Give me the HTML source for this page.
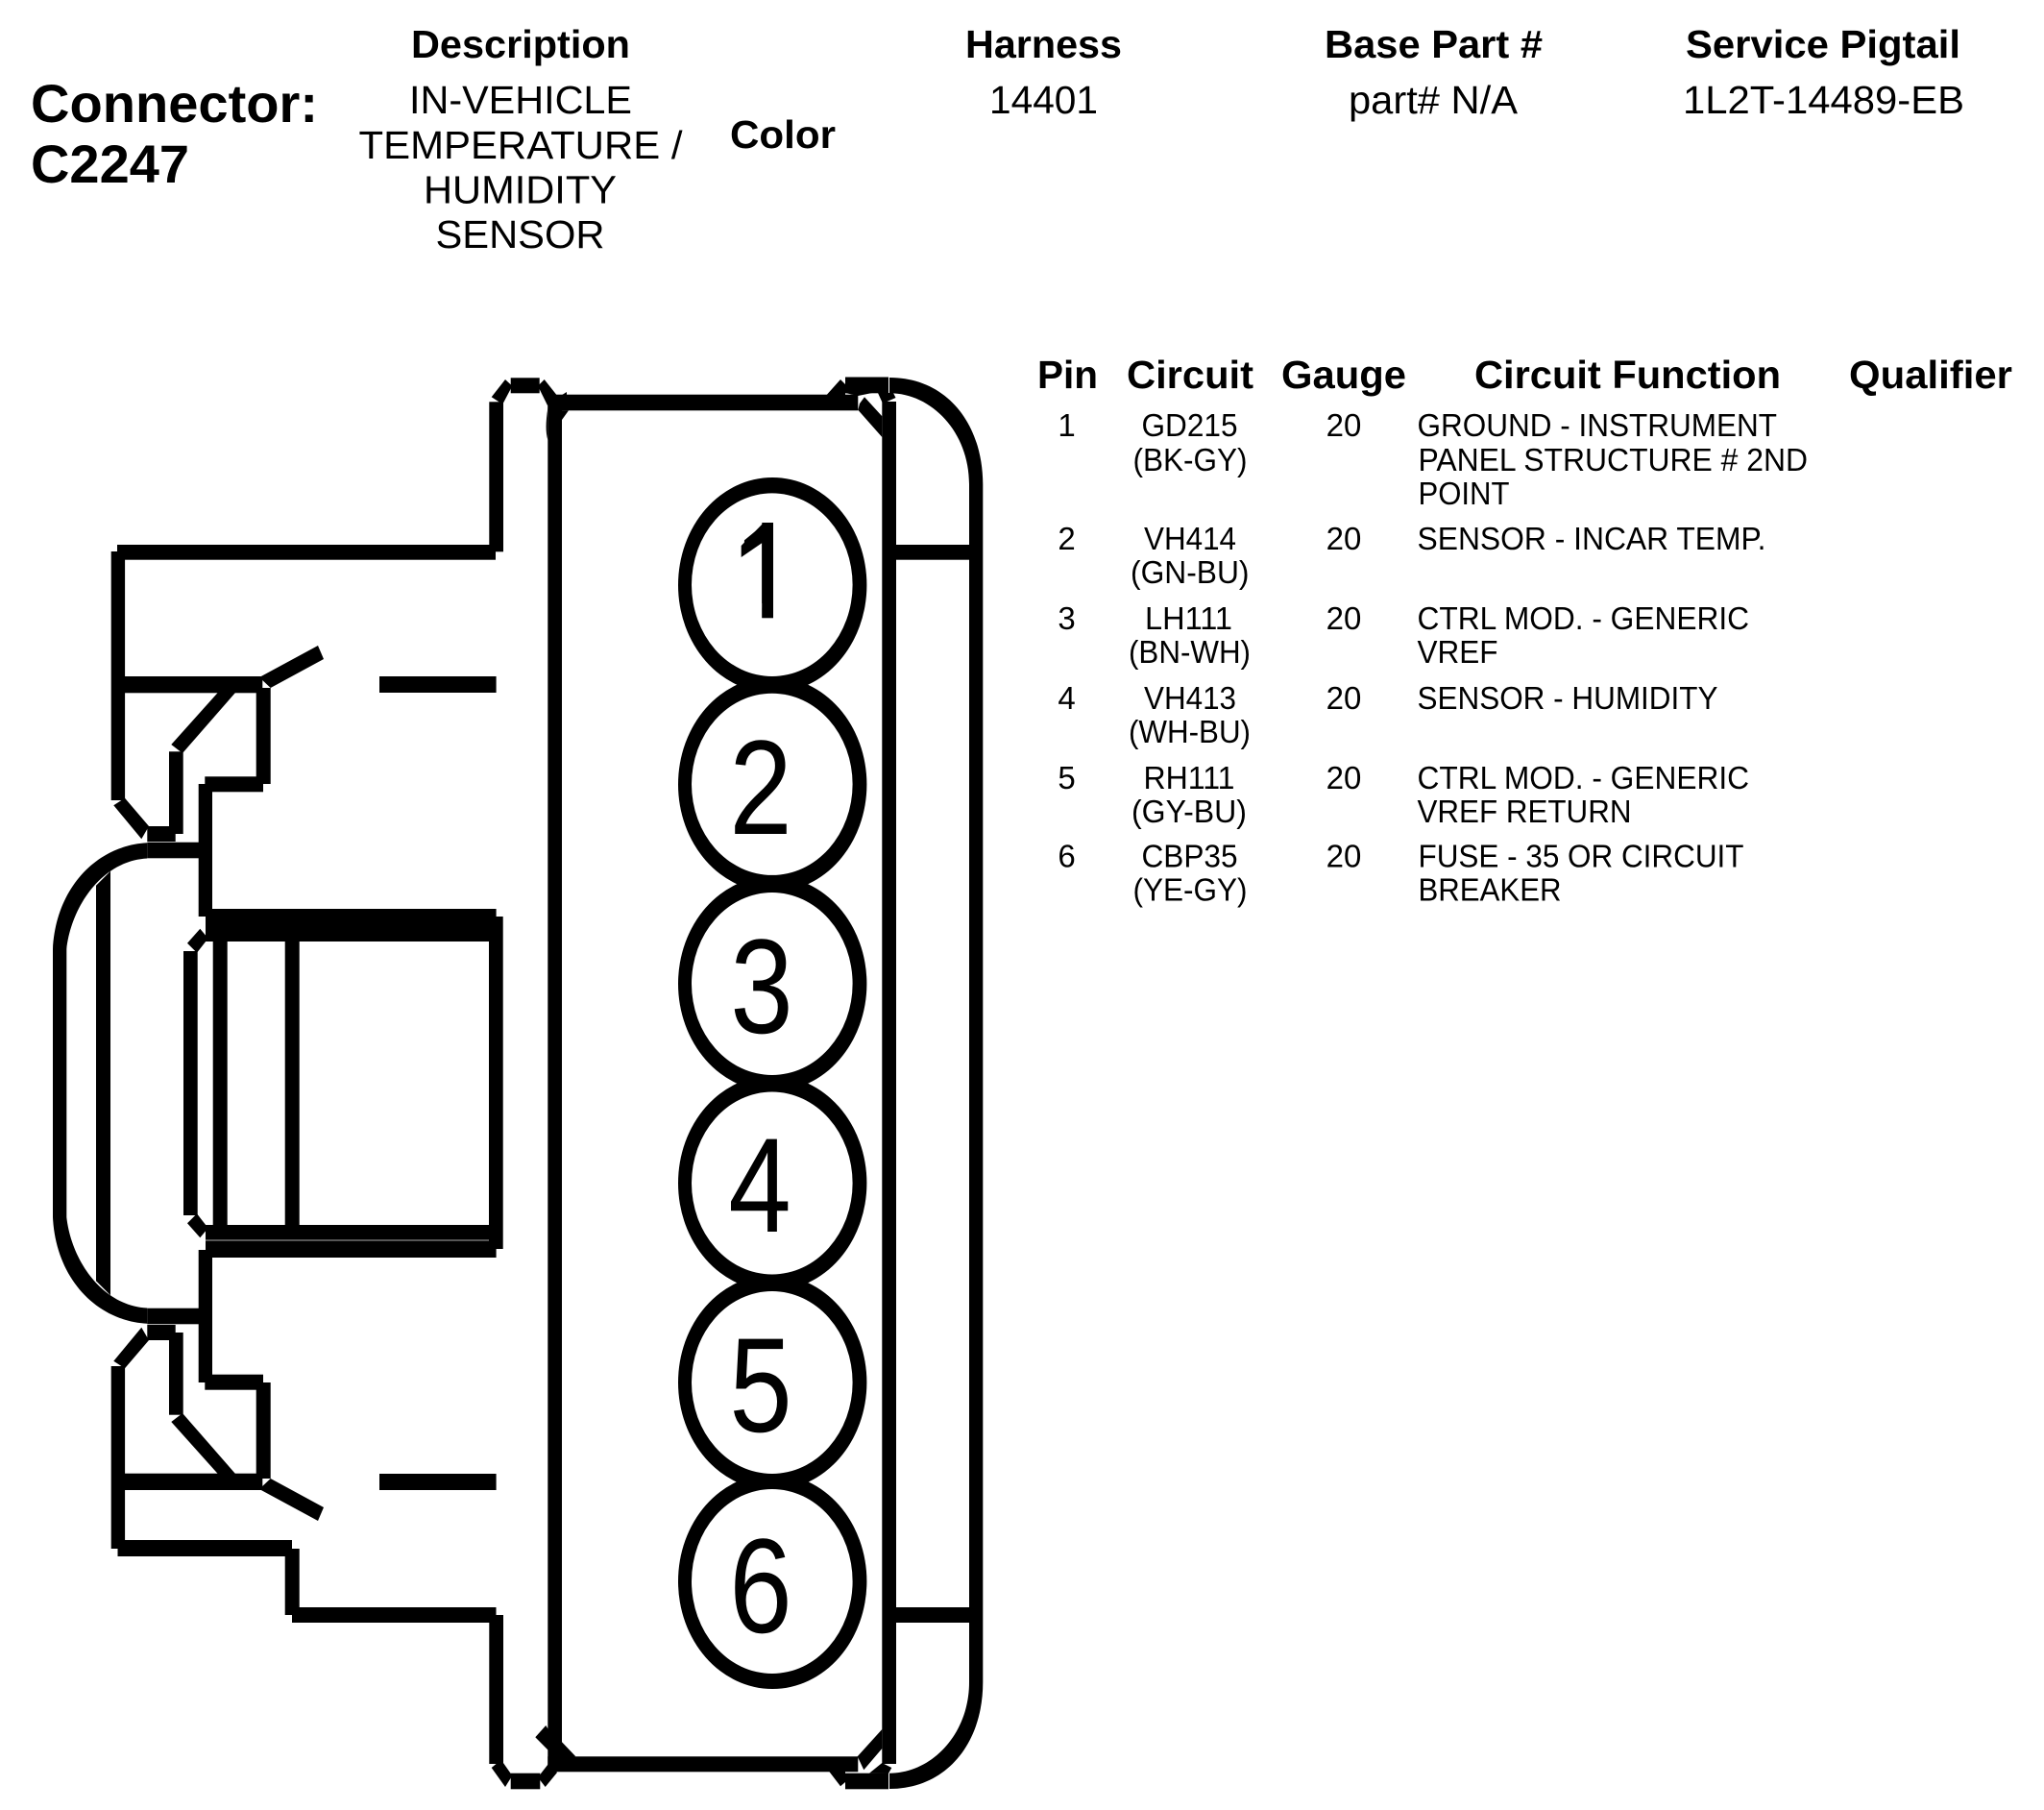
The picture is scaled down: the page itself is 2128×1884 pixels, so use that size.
<!DOCTYPE html>
<html><head><meta charset="utf-8"><style>
html,body{margin:0;padding:0;background:#fff}
svg{display:block}
text{font-family:"Liberation Sans",sans-serif;fill:#000}
.h{font-weight:bold;font-size:41px}
.r{font-size:41px}
.s{font-size:33px}
.d{font-size:140px}
</style></head><body>
<svg xmlns="http://www.w3.org/2000/svg" width="2128" height="1884" viewBox="0 0 2128 1884">
<rect width="2128" height="1884" fill="#fff"/>
<!-- header text -->
<text class="h" style="font-size:55.5px" x="32" y="127" textLength="299" lengthAdjust="spacingAndGlyphs">Connector:</text>
<text class="h" style="font-size:55.5px" x="32" y="190" textLength="165" lengthAdjust="spacingAndGlyphs">C2247</text>
<text class="h" x="428" y="60" textLength="228" lengthAdjust="spacingAndGlyphs">Description</text>
<text class="r" x="426" y="118" textLength="232" lengthAdjust="spacingAndGlyphs">IN-VEHICLE</text>
<text class="r" x="373.5" y="165" textLength="337" lengthAdjust="spacingAndGlyphs">TEMPERATURE /</text>
<text class="r" x="441" y="211.5" textLength="201" lengthAdjust="spacingAndGlyphs">HUMIDITY</text>
<text class="r" x="453.5" y="258" textLength="176" lengthAdjust="spacingAndGlyphs">SENSOR</text>
<text class="h" x="760" y="154" textLength="110" lengthAdjust="spacingAndGlyphs">Color</text>
<text class="h" x="1005" y="60" textLength="163" lengthAdjust="spacingAndGlyphs">Harness</text>
<text class="r" x="1030" y="118" textLength="113" lengthAdjust="spacingAndGlyphs">14401</text>
<text class="h" x="1379" y="60" textLength="227" lengthAdjust="spacingAndGlyphs">Base Part #</text>
<text class="r" x="1404" y="118" textLength="176" lengthAdjust="spacingAndGlyphs">part# N/A</text>
<text class="h" x="1755" y="60" textLength="286" lengthAdjust="spacingAndGlyphs">Service Pigtail</text>
<text class="r" x="1752" y="118" textLength="293" lengthAdjust="spacingAndGlyphs">1L2T-14489-EB</text>
<!-- table headers -->
<text class="h" x="1080" y="404" textLength="63" lengthAdjust="spacingAndGlyphs">Pin</text>
<text class="h" x="1173" y="404" textLength="132" lengthAdjust="spacingAndGlyphs">Circuit</text>
<text class="h" x="1334" y="404" textLength="130" lengthAdjust="spacingAndGlyphs">Gauge</text>
<text class="h" x="1535" y="404" textLength="319" lengthAdjust="spacingAndGlyphs">Circuit Function</text>
<text class="h" x="1925" y="404" textLength="170" lengthAdjust="spacingAndGlyphs">Qualifier</text>
<!-- rows -->
<g class="s" style="font-size:33px" text-anchor="middle">
<text x="1110.5" y="454">1</text><text x="1110.5" y="572">2</text><text x="1110.5" y="655">3</text><text x="1110.5" y="738">4</text><text x="1110.5" y="821">5</text><text x="1110.5" y="902.5">6</text>
<text x="1399" y="454">20</text><text x="1399" y="572">20</text><text x="1399" y="655">20</text><text x="1399" y="738">20</text><text x="1399" y="821">20</text><text x="1399" y="902.5">20</text>
</g>
<g style="font-size:33px">
<text x="1188.5" y="454" textLength="100" lengthAdjust="spacingAndGlyphs">GD215</text>
<text x="1179.5" y="490" textLength="119" lengthAdjust="spacingAndGlyphs">(BK-GY)</text>
<text x="1191" y="572" textLength="96" lengthAdjust="spacingAndGlyphs">VH414</text>
<text x="1177" y="607" textLength="123.5" lengthAdjust="spacingAndGlyphs">(GN-BU)</text>
<text x="1192" y="655" textLength="91" lengthAdjust="spacingAndGlyphs">LH111</text>
<text x="1175" y="690" textLength="127" lengthAdjust="spacingAndGlyphs">(BN-WH)</text>
<text x="1191" y="738" textLength="96" lengthAdjust="spacingAndGlyphs">VH413</text>
<text x="1175" y="773" textLength="127" lengthAdjust="spacingAndGlyphs">(WH-BU)</text>
<text x="1190.5" y="821" textLength="95" lengthAdjust="spacingAndGlyphs">RH111</text>
<text x="1178" y="856" textLength="120" lengthAdjust="spacingAndGlyphs">(GY-BU)</text>
<text x="1188.5" y="902.5" textLength="100" lengthAdjust="spacingAndGlyphs">CBP35</text>
<text x="1179.5" y="937.5" textLength="119" lengthAdjust="spacingAndGlyphs">(YE-GY)</text>
<text x="1475.5" y="454" textLength="374.5" lengthAdjust="spacingAndGlyphs">GROUND - INSTRUMENT</text>
<text x="1476.5" y="490" textLength="405.5" lengthAdjust="spacingAndGlyphs">PANEL STRUCTURE # 2ND</text>
<text x="1476.5" y="525" textLength="95" lengthAdjust="spacingAndGlyphs">POINT</text>
<text x="1475.5" y="572" textLength="363" lengthAdjust="spacingAndGlyphs">SENSOR - INCAR TEMP.</text>
<text x="1475.5" y="655" textLength="345.5" lengthAdjust="spacingAndGlyphs">CTRL MOD. - GENERIC</text>
<text x="1475.5" y="690" textLength="84" lengthAdjust="spacingAndGlyphs">VREF</text>
<text x="1475.5" y="738" textLength="313" lengthAdjust="spacingAndGlyphs">SENSOR - HUMIDITY</text>
<text x="1475.5" y="821" textLength="345.5" lengthAdjust="spacingAndGlyphs">CTRL MOD. - GENERIC</text>
<text x="1475.5" y="856" textLength="223" lengthAdjust="spacingAndGlyphs">VREF RETURN</text>
<text x="1476.5" y="902.5" textLength="339" lengthAdjust="spacingAndGlyphs">FUSE - 35 OR CIRCUIT</text>
<text x="1476.5" y="937.5" textLength="149" lengthAdjust="spacingAndGlyphs">BREAKER</text>
</g>

<!-- connector: non-mirrored parts -->
<g fill="#000">
<rect x="122" y="567" width="394" height="15.7"/>
<rect x="115.7" y="574" width="14.4" height="259"/>
<rect x="115.7" y="1422" width="14.4" height="190"/>
<rect x="122.5" y="1603" width="181.5" height="17"/>
<rect x="296.7" y="1612" width="15" height="69"/>
<rect x="304" y="1673" width="212.5" height="16"/>
<rect x="509.3" y="418.3" width="14.7" height="156"/>
<rect x="509.3" y="1681" width="14.7" height="155"/>
<!-- main body -->
<rect x="570.3" y="412" width="14.7" height="1432"/>
<rect x="918.3" y="418" width="14.7" height="1418"/>
<rect x="570.3" y="410.7" width="323" height="16.6"/>
<rect x="570.3" y="1828.3" width="323" height="16"/>
<!-- right shell -->
<rect x="1009" y="504" width="14.3" height="1247"/>
<rect x="933" y="567" width="76" height="15.7"/>
<rect x="933" y="1673" width="76" height="16"/>
<path d="M926 393C985 393 1023 440 1023.3 504L1009 504C1009 450 970 409.3 926 409.3Z"/>
<path d="M926 1862C985 1862 1023.3 1815 1023.3 1751L1009 1751C1009 1805 970 1845.7 926 1845.7Z"/>
<!-- top tabs -->
<rect x="531.7" y="393.3" width="30" height="16"/>
<rect x="880" y="392.5" width="45" height="16.8"/>
<path d="M511.7 413.3L526 395L533.3 401.7L523.3 420.7Z"/>
<path d="M560 401.7L566.7 395L580 411.7L570 422Z"/>
<path d="M860 411.7L875 395L880 400L880 411.7Z"/>
<path d="M893.3 426.7L918.3 455L918.3 433.3L900 413.3L895 420Z"/>
<path d="M880 409L908 409L893.3 412Z"/>
<path d="M914 409L930 409L932.5 414L919 420Z"/>
<path d="M570.3 425C568 440 568 450 570.3 458Z"/>
<path d="M585 427.3L592 427.3L585 437Z"/>
<path d="M574 418L590 408L590 412L580 430Z"/>
<!-- bottom tabs -->
<rect x="531.7" y="1845.7" width="30.6" height="16.6"/>
<rect x="880" y="1845.7" width="45" height="16.6"/>
<path d="M511.7 1840L521.7 1831.7L533.3 1848.3L526 1860Z"/>
<path d="M560 1850L571.7 1835L580 1845L567.7 1860Z"/>
<path d="M557.3 1808.3L568.3 1796L570.7 1800L570.7 1821.7Z"/>
<path d="M585 1813.3L599.3 1828.3L585 1830Z"/>
<path d="M863.3 1844L875 1859.3L880 1855L880 1844Z"/>
<path d="M892.7 1828.3L918.3 1800L918.3 1820L899.3 1842.3Z"/>
<path d="M905 1845.8L918.3 1835L928.3 1840L925 1846Z"/>
<!-- centre block -->
<rect x="214" y="946" width="302.6" height="34"/>
<rect x="214" y="1275" width="302.6" height="34"/>
<rect x="509" y="954" width="14.7" height="346"/>
<rect x="221.7" y="979" width="15" height="298"/>
<rect x="296.7" y="979" width="15" height="298"/>
<rect x="191" y="990" width="14.7" height="275"/>
<rect x="214" y="1290.5" width="295" height="1" fill="#aaa"/>
<!-- dome -->
<rect x="55" y="988" width="14.3" height="279"/>
<path d="M100 921.7L115 906.7L115 1348.3L100 1333.3Z"/>
</g>

<g fill="#000">
<rect x="130" y="704" width="143.3" height="17.3"/>
<rect x="395" y="704" width="121.6" height="17"/>
<path d="M270 705L331 672L337 686L281.7 716Z"/>
<rect x="266.7" y="716" width="15" height="100"/>
<rect x="213.3" y="808.3" width="60.7" height="16"/>
<rect x="206.7" y="816" width="14.3" height="138"/>
<path d="M118.3 838.3L130 830.7L155 860L147.3 873.3Z"/>
<rect x="153.3" y="860" width="29.4" height="16"/>
<rect x="176" y="782.3" width="14.7" height="85.7"/>
<path d="M178.3 775L226.7 721L245 721L190 784Z"/>
<path d="M195 981.7L208.3 966.7L216.7 976.7L205 991.7Z"/>
<rect x="153.3" y="876.7" width="54" height="16.6"/>
<path d="M153.3 877.3C100 880 58 925 55 988L69.3 988C74 945 105 896 153.3 893.5Z"/>
</g>
<g fill="#000" transform="matrix(1 0 0 -1 0 2255)">
<rect x="130" y="704" width="143.3" height="17.3"/>
<rect x="395" y="704" width="121.6" height="17"/>
<path d="M270 705L331 672L337 686L281.7 716Z"/>
<rect x="266.7" y="716" width="15" height="100"/>
<rect x="213.3" y="808.3" width="60.7" height="16"/>
<rect x="206.7" y="816" width="14.3" height="138"/>
<path d="M118.3 838.3L130 830.7L155 860L147.3 873.3Z"/>
<rect x="153.3" y="860" width="29.4" height="16"/>
<rect x="176" y="782.3" width="14.7" height="85.7"/>
<path d="M178.3 775L226.7 721L245 721L190 784Z"/>
<path d="M195 981.7L208.3 966.7L216.7 976.7L205 991.7Z"/>
<rect x="153.3" y="876.7" width="54" height="16.6"/>
<path d="M153.3 877.3C100 880 58 925 55 988L69.3 988C74 945 105 896 153.3 893.5Z"/>
</g>

<!-- pin ellipses -->
<g fill="#000">
<ellipse cx="804.2" cy="609" rx="98.2" ry="112"/>
<ellipse cx="804.2" cy="816.5" rx="98.2" ry="112"/>
<ellipse cx="804.2" cy="1024" rx="98.2" ry="112"/>
<ellipse cx="804.2" cy="1231.5" rx="98.2" ry="112"/>
<ellipse cx="804.2" cy="1439" rx="98.2" ry="112"/>
<ellipse cx="804.2" cy="1646" rx="98.2" ry="112"/>
</g>
<g fill="#fff">
<ellipse cx="803.8" cy="608.7" rx="83.8" ry="95.3"/>
<ellipse cx="803.8" cy="816.3" rx="83.8" ry="94.6"/>
<ellipse cx="803.8" cy="1024" rx="83.8" ry="95"/>
<ellipse cx="803.8" cy="1231.5" rx="83.8" ry="95"/>
<ellipse cx="803.8" cy="1439" rx="83.8" ry="95"/>
<ellipse cx="803.8" cy="1646" rx="83.8" ry="96"/>
</g>
<g class="d" text-anchor="middle" style="font-size:140px">
<text transform="translate(796.3,643) scale(.84,1)">1</text>
<text transform="translate(792,868) scale(.84,1)">2</text>
<text transform="translate(793,1075) scale(.84,1)">3</text>
<text transform="translate(791,1282) scale(.84,1)">4</text>
<text transform="translate(792,1490) scale(.84,1)">5</text>
<text transform="translate(792,1699) scale(.84,1)">6</text>
</g>
<!-- hide the foot of the numeral 1 and square up its stem and flag -->
<rect x="755" y="628" width="38.3" height="18" fill="#fff"/>
<rect x="805" y="628" width="40" height="18" fill="#fff"/>
<rect x="793.3" y="544" width="11.7" height="99.3" fill="#000"/>
<path d="M771.7 568L771.7 580L795 564L795 544Z" fill="#000"/>
</svg>
</body></html>
